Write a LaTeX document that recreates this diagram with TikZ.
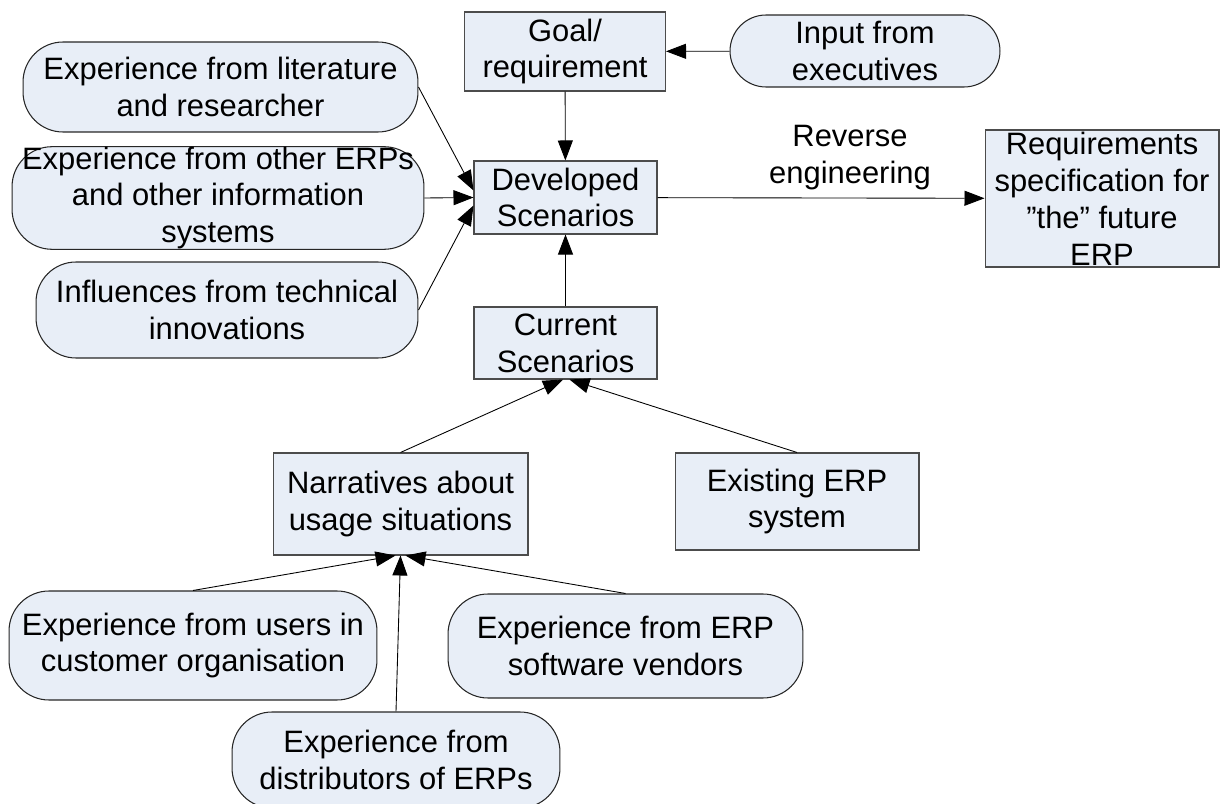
\documentclass[tikz,border=0pt]{standalone}
\usepackage{fontspec}
\setmainfont{Liberation Sans}
\usepackage{tikz}
\usetikzlibrary{positioning, arrows.meta}

\definecolor{boxfill}{RGB}{232,238,247}

\begin{document}
\begin{tikzpicture}[x = 0.02cm, y = -0.02cm,
    every node/.style = { align = center, inner sep = 0pt, font = \fontsize{17.6}{21}\selectfont },
    plain/.style = { draw = black!70, fill = boxfill, line width = 0.6pt },
    bubble/.style = { draw = black!85, fill = boxfill, line width = 0.6pt, rounded corners = 0.8cm },
    flow/.style = { -{Triangle[length = 0.4cm, width = 0.3cm]}, line width = 0.5pt }]
    \useasboundingbox (0,0) rectangle (1221,804);

    \node [plain, minimum width = 4.02cm, minimum height = 1.58cm] (goal) at (565,51.5) { Goal/ \\ requirement };
    \node [bubble, rounded corners = 0.72cm, minimum width = 5.4cm, minimum height = 1.44cm] (input) at (865,51) { Input from \\ executives };
    \node [bubble, minimum width = 7.9cm, minimum height = 1.8cm] (lit) at (220.5,87) { Experience from literature \\ and researcher };
    \node [bubble, minimum width = 8.24cm, minimum height = 2.04cm] (other) at (218,198) { Experience from other ERPs \\ and other information \\ systems };
    \node [bubble, minimum width = 7.64cm, minimum height = 1.92cm] (infl) at (227,310) { Influences from technical \\ innovations };
    \node [plain, minimum width = 3.66cm, minimum height = 1.46cm] (dev) at (565.5,197.5) { Developed \\ Scenarios };
    \node [plain, minimum width = 4.68cm, minimum height = 2.74cm] (req) at (1102,198.5) { Requirements \\ specification for \\ ”the” future \\ ERP };
    \node (rev) at (850,158) { Reverse \\ engineering };
    \node [plain, minimum width = 3.66cm, minimum height = 1.44cm] (cur) at (565.5,343) { Current \\ Scenarios };
    \node [plain, minimum width = 5.1cm, minimum height = 2.04cm] (narr) at (400.5,504) { Narratives about \\ usage situations };
    \node [plain, minimum width = 4.88cm, minimum height = 1.94cm] (exist) at (797,501.5) { Existing ERP \\ system };
    \node [bubble, minimum width = 7.36cm, minimum height = 2.18cm] (users) at (193,645.5) { Experience from users in \\ customer organisation };
    \node [bubble, minimum width = 7.1cm, minimum height = 2.08cm] (vend) at (625.5,646) { Experience from ERP \\ software vendors };
    \node [bubble, minimum width = 6.56cm, minimum height = 1.92cm] (distr) at (396,760) { Experience from \\ distributors of ERPs };

    \draw [flow] (input) -- (goal);
    \draw [flow] (goal) -- (dev);
    \draw [flow] (lit.east) -- ([yshift = 0.14cm]dev.west);
    \draw [flow] (other.east) -- (dev.west);
    \draw [flow] (infl.east) -- ([yshift = -0.16cm]dev.west);
    \draw [flow] (dev) -- (req);
    \draw [flow] (cur) -- (dev);
    \draw [flow] (narr.north) -- ([xshift = -0.05cm]cur.south);
    \draw [flow] (exist.north) -- ([xshift = 0.08cm]cur.south);
    \draw [flow] (users.north) -- ([xshift = -0.1cm]narr.south);
    \draw [flow] (distr.north) -- (narr.south);
    \draw [flow] (vend.north) -- ([xshift = 0.1cm]narr.south);
\end{tikzpicture}
\end{document}
